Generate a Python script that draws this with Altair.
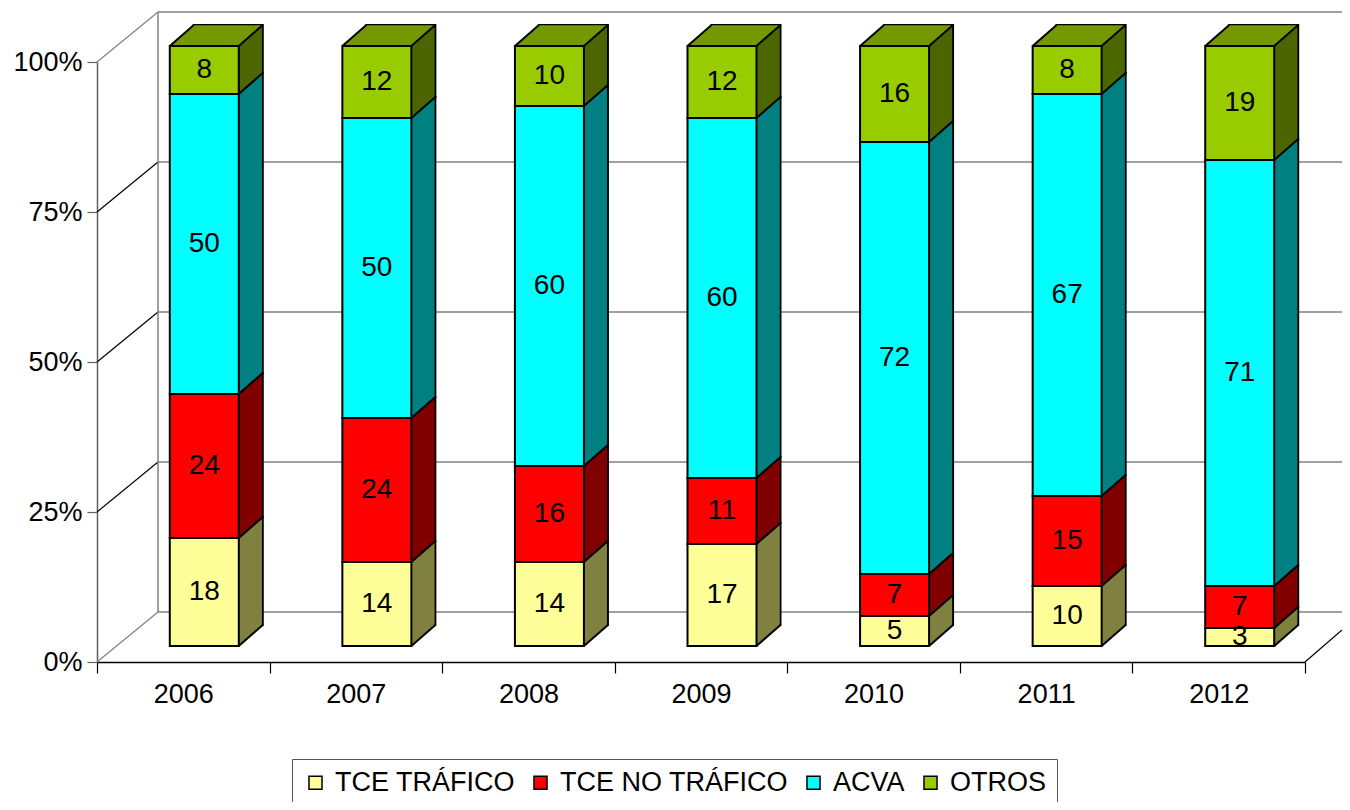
import altair as alt
import pandas as pd

# ---- data ----
years = ["2006", "2007", "2008", "2009", "2010", "2011", "2012"]
categories = ["TCE TRÁFICO", "TCE NO TRÁFICO", "ACVA", "OTROS"]
tce_trafico = [18, 14, 14, 17, 5, 10, 3]
tce_no_trafico = [24, 24, 16, 11, 7, 15, 7]
acva = [50, 50, 60, 60, 72, 67, 71]
otros = [8, 12, 10, 12, 16, 8, 19]
front_colors = ["#FFFF99", "#FF0000", "#00FFFF", "#99CC00"]
side_colors = ["#808040", "#800000", "#008080", "#4D6600"]
top_color = "#739900"
tick_values = [0, 0.25, 0.5, 0.75, 1.0]

series = [tce_trafico, tce_no_trafico, acva, otros]
rows = []
for ci, (cat, vals) in enumerate(zip(categories, series)):
    for yr, v in zip(years, vals):
        rows.append({"year": yr, "cat": cat, "ord": ci, "value": v, "side": side_colors[ci]})
df = pd.DataFrame(rows)

df_ticks = pd.DataFrame({
    "v": tick_values,
    "edge": ["#808080" if t in (tick_values[0], tick_values[-1]) else "#000000" for t in tick_values],
})
df_wall = pd.DataFrame({"top": [tick_values[-1]], "bottom": [tick_values[0]]})

# ---- geometry (pixels) ----
W, H = 1208, 600
DX, DY = 24, 21          # depth extrusion of bars
BX, BY = 21, -16         # bar position offset inside the 3D box
BW = 69                  # bar width
WX, WY = 61, -50         # back wall offset
RIGHT = 37
r = DY / DX
FONT = "Liberation Sans"

yscale = alt.Scale(domain=[0, 1], nice=False, zero=True)
xscale = alt.Scale(paddingInner=0, paddingOuter=0)

x_axis = alt.Axis(labelFont=FONT, labelFontSize=27, labelColor="black",
                  labelAngle=0, tickBand="extent", tickSize=11, tickColor="black",
                  tickWidth=1.2, domainColor="black", domainWidth=1.5,
                  labelPadding=8, grid=False, title=None)
y_axis = alt.Axis(values=tick_values, format="%", labelFont=FONT,
                  labelFontSize=27, labelColor="black", tickSize=10,
                  tickColor="#606060", tickWidth=1.2, domainColor="#606060",
                  domainWidth=1.5, labelPadding=5, grid=False, title=None)

base = alt.Chart(df).transform_stack(
    stack="value", groupby=["year"], as_=["lo", "hi"], offset="normalize",
    sort=[alt.SortField("ord", order="ascending")],
).transform_calculate(mid="(datum.lo + datum.hi) / 2")


def X(**kw):
    return alt.X("year:N", sort=years, scale=xscale, axis=x_axis, title=None, **kw)


def Y(field):
    return alt.Y(field, scale=yscale, axis=y_axis, title=None)


layers = []

# back wall gridlines
layers.append(
    alt.Chart(df_ticks).mark_rule(color="#808080", strokeWidth=1.5, yOffset=WY).encode(
        x=alt.value(WX), x2=alt.value(W + RIGHT), y=Y("v:Q"),
    )
)
# diagonal lines from front axis to back wall
layers.append(
    alt.Chart(df_ticks).mark_rule(strokeWidth=1.2, y2Offset=WY).encode(
        x=alt.value(0), x2=alt.value(WX), y=Y("v:Q"), y2="v:Q",
        stroke=alt.Stroke("edge:N", scale=None),
    )
)
# left wall back edge
layers.append(
    alt.Chart(df_wall).mark_rule(color="#808080", strokeWidth=1.5, yOffset=WY, y2Offset=WY).encode(
        x=alt.value(WX), y=Y("top:Q"), y2="bottom:Q",
    )
)
# right floor edge
layers.append(
    alt.Chart(df_wall).mark_rule(color="#000000", strokeWidth=1.2, y2Offset=-32).encode(
        x=alt.value(W), x2=alt.value(W + RIGHT), y=Y("bottom:Q"), y2="bottom:Q",
    )
)

# bar extrusion (side faces)
for k in range(DX, 0, -1):
    kw = dict(size=BW, xOffset=BX + k, x2Offset=BX + k, yOffset=BY - k * r, y2Offset=BY - k * r)
    if k == DX:
        kw.update(stroke="black", strokeWidth=2)
    layers.append(
        base.mark_bar(**kw).encode(
            x=X(), y=Y("lo:Q"), y2="hi:Q",
            fill=alt.Fill("side:N", scale=None),
        )
    )

# top faces
for k in range(DX - 1, 0, -1):
    layers.append(
        base.transform_filter(alt.datum.ord == len(categories) - 1).mark_bar(
            size=BW, xOffset=BX + k, x2Offset=BX + k,
            yOffset=BY - k * r - 0.6, y2Offset=BY - k * r + 1.2, fill=top_color,
        ).encode(x=X(), y=Y("hi:Q"), y2="hi:Q")
    )

# diagonal edges of the boxes
x2_mid = alt.X2("year:N", bandPosition=0.5)
layers.append(
    base.mark_rule(color="black", strokeWidth=2,
                   xOffset=BX + BW / 2, x2Offset=BX + BW / 2 + DX,
                   yOffset=BY, y2Offset=BY - DY).encode(
        x=X(bandPosition=0.5), x2=x2_mid, y=Y("hi:Q"), y2="hi:Q",
    )
)
layers.append(
    base.transform_filter(alt.datum.ord == 0).mark_rule(
        color="black", strokeWidth=2,
        xOffset=BX + BW / 2, x2Offset=BX + BW / 2 + DX,
        yOffset=BY, y2Offset=BY - DY).encode(
        x=X(bandPosition=0.5), x2=x2_mid, y=Y("lo:Q"), y2="lo:Q",
    )
)
layers.append(
    base.transform_filter(alt.datum.ord == len(categories) - 1).mark_rule(
        color="black", strokeWidth=2,
        xOffset=BX - BW / 2, x2Offset=BX - BW / 2 + DX,
        yOffset=BY, y2Offset=BY - DY).encode(
        x=X(bandPosition=0.5), x2=x2_mid, y=Y("hi:Q"), y2="hi:Q",
    )
)

# front faces with legend
layers.append(
    base.mark_bar(size=BW, xOffset=BX, x2Offset=BX, yOffset=BY, y2Offset=BY,
                  stroke="black", strokeWidth=2, opacity=1).encode(
        x=X(), y=Y("lo:Q"), y2="hi:Q",
        color=alt.Color("cat:N", scale=alt.Scale(domain=categories, range=front_colors),
                        legend=alt.Legend(orient="none", legendX=195, legendY=697,
                                          direction="horizontal", title=None,
                                          labelFont=FONT, labelFontSize=27, labelLimit=0,
                                          labelColor="black", symbolType="square",
                                          symbolSize=170, symbolStrokeColor="black",
                                          symbolStrokeWidth=1.5, symbolOpacity=1,
                                          strokeColor="#555555", fillColor="white",
                                          padding=10, columnPadding=12, labelOffset=6)),
    )
)

# value labels
layers.append(
    base.mark_text(font=FONT, fontSize=28, color="black", dx=BX, dy=BY).encode(
        x=X(), y=Y("mid:Q"), text=alt.Text("value:Q"),
    )
)

chart = alt.layer(*layers).properties(
    width=W, height=H,
    autosize=alt.AutoSizeParams(type="none"),
    padding={"left": 89, "top": 54, "right": RIGHT, "bottom": 140},
    background="white",
).configure_view(stroke=None)

chart.save("out.html", embed_options={"renderer": "svg", "actions": False})
